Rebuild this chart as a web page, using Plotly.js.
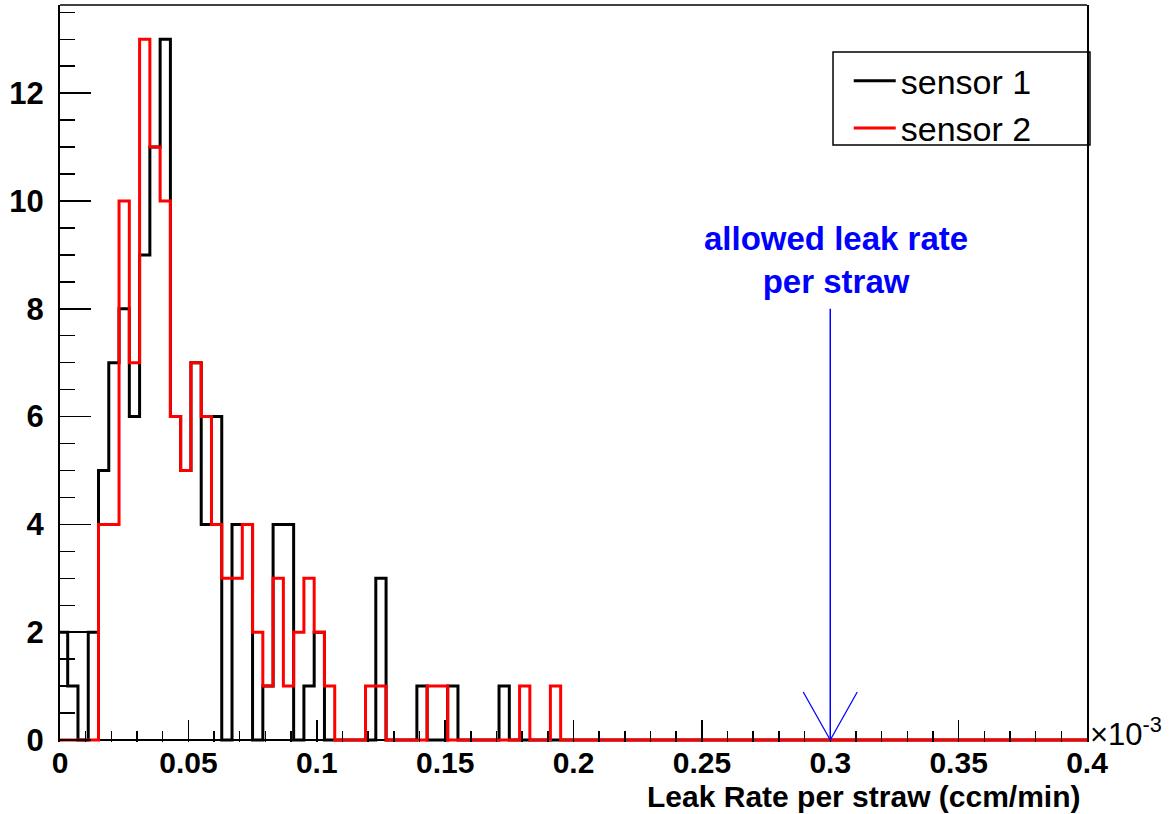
<!DOCTYPE html>
<html><head><meta charset="utf-8">
<script src="https://cdn.plot.ly/plotly-3.0.1.min.js"></script>
<style>html,body{margin:0;padding:0;background:#fff;} #chart{width:1171px;height:814px;}</style>
</head><body><div id="chart"></div>
<script>
// histogram binning (ROOT style): first bin starts at -0.001, width 0.004
const binLow = -0.001;
const binWidth = 0.004;
const xMax = 0.4;

// counts per bin
const sensor1 = [2,1,0,2,5,7,8,6,9,11, 13,6,5,7,4,6,0,4,4,0, 1,4,4,0,1,2,0,0,0,0, 0,3,0,0,0,1,0,0,1,0, 0,0,0,1,0,0,0,0,0];
const sensor2 = [0,0,0,0,4,4,10,7,13,11, 10,6,5,7,6,4,3,3,4,2, 1,3,1,2,3,2,1,0,0,0, 1,1,0,0,0,0,1,1,0,0, 0,0,0,0,0,1,0,0,1];

const seriesNames = ['sensor 1', 'sensor 2'];
const xTickVals = [0,0.05,0.1,0.15,0.2,0.25,0.3,0.35,0.4];
const xTickText = ['0','0.05','0.1','0.15','0.2','0.25','0.3','0.35','0.4'];
const yTickVals = [0,2,4,6,8,10,12];
const yTickText = ['0','2','4','6','8','10','12'];

const allowedRate = 0.3;   // allowed leak rate marker
const arrowTop = 8;        // arrow starts at this count level

const FONT = 'Liberation Sans, Arial, Helvetica, sans-serif';
const BLUE = '#0000ff';

function stepTrace(counts, name, color) {
  const x = [], y = [];
  counts.forEach((c, i) => { x.push(binLow + i * binWidth); y.push(c); });
  x.push(binLow + counts.length * binWidth); y.push(0);
  x.push(xMax); y.push(0);
  return {type: 'scatter', mode: 'lines', x: x, y: y, name: name,
          line: {color: color, width: 3, shape: 'hv'}, hoverinfo: 'skip'};
}

const data = [
  stepTrace(sensor1, seriesNames[0], '#000000'),
  stepTrace(sensor2, seriesNames[1], '#ff0000')
];

const layout = {
  width: 1171, height: 814,
  margin: {l: 60, r: 84, t: 5, b: 72},
  paper_bgcolor: '#ffffff', plot_bgcolor: '#ffffff',
  showlegend: true,
  legend: {x: 0.768, y: 0.936, xanchor: 'left', yanchor: 'top',
           bgcolor: 'rgba(0,0,0,0)', borderwidth: 0, itemwidth: 42,
           font: {family: FONT, size: 34, color: '#000'}},
  xaxis: {
    range: [0, xMax], tickmode: 'array', tickvals: xTickVals, ticktext: xTickText,
    ticks: 'inside', ticklen: 22, tickwidth: 1.5, tickcolor: '#000',
    minor: {dtick: 0.01, ticks: 'inside', ticklen: 11, tickwidth: 1.5, tickcolor: '#000', showgrid: false},
    showgrid: false, zeroline: false, showline: false,
    tickfont: {family: FONT, size: 30, color: '#000', weight: 'bold'},
    fixedrange: true
  },
  yaxis: {
    range: [-0.0371, 13.636], tickmode: 'array', tickvals: yTickVals, ticktext: yTickText,
    ticks: 'inside', ticklen: 31, tickwidth: 1.5, tickcolor: '#000',
    minor: {dtick: 0.5, ticks: 'inside', ticklen: 15, tickwidth: 1.5, tickcolor: '#000', showgrid: false},
    showgrid: false, showline: true, mirror: true, linecolor: '#000', linewidth: 2,
    zeroline: true, zerolinecolor: '#000', zerolinewidth: 2,
    ticklabelstandoff: 8,
    tickfont: {family: FONT, size: 31, color: '#000', weight: 'bold'},
    fixedrange: true
  },
  shapes: [
    // top frame line
    {type: 'line', xref: 'paper', yref: 'paper', x0: 0, x1: 1, y0: 1, y1: 1, line: {color: '#000', width: 1.5}},
    // legend box
    {type: 'rect', xref: 'paper', yref: 'paper', x0: 0.7527, x1: 1.0029, y0: 0.810, y1: 0.9362,
     line: {color: '#000', width: 1.5}, fillcolor: 'rgba(0,0,0,0)', layer: 'above'},
    // arrow shaft
    {type: 'line', xref: 'x', yref: 'y', x0: allowedRate, x1: allowedRate, y0: arrowTop, y1: 0,
     line: {color: BLUE, width: 1.5}},
    // open arrow head
    {type: 'line', xref: 'x', yref: 'y', xsizemode: 'pixel', ysizemode: 'pixel',
     xanchor: allowedRate, yanchor: 0, x0: -27, x1: 0, y0: 48, y1: 0, line: {color: BLUE, width: 1.2}},
    {type: 'line', xref: 'x', yref: 'y', xsizemode: 'pixel', ysizemode: 'pixel',
     xanchor: allowedRate, yanchor: 0, x0: 27, x1: 0, y0: 48, y1: 0, line: {color: BLUE, width: 1.2}}
  ],
  annotations: [
    {text: 'allowed leak rate<br>per straw', xref: 'x', yref: 'y', x: allowedRate, y: 8.9,
     xshift: 6, xanchor: 'center', yanchor: 'middle', showarrow: false, align: 'center',
     font: {family: FONT, size: 33, color: BLUE, weight: 'bold'}},
    {text: 'Leak Rate per straw (ccm/min)', xref: 'paper', yref: 'paper', x: 0.9961, y: -0.0733,
     xanchor: 'right', yanchor: 'middle', showarrow: false,
     font: {family: FONT, size: 30, color: '#000', weight: 'bold'}},
    {text: '×10<sup>-3</sup>', xref: 'paper', yref: 'paper', x: 1.001, y: 0.014,
     xanchor: 'left', yanchor: 'middle', showarrow: false,
     font: {family: FONT, size: 31, color: '#000'}}
  ]
};

Plotly.newPlot('chart', data, layout, {displayModeBar: false, staticPlot: true});
</script>
</body></html>
